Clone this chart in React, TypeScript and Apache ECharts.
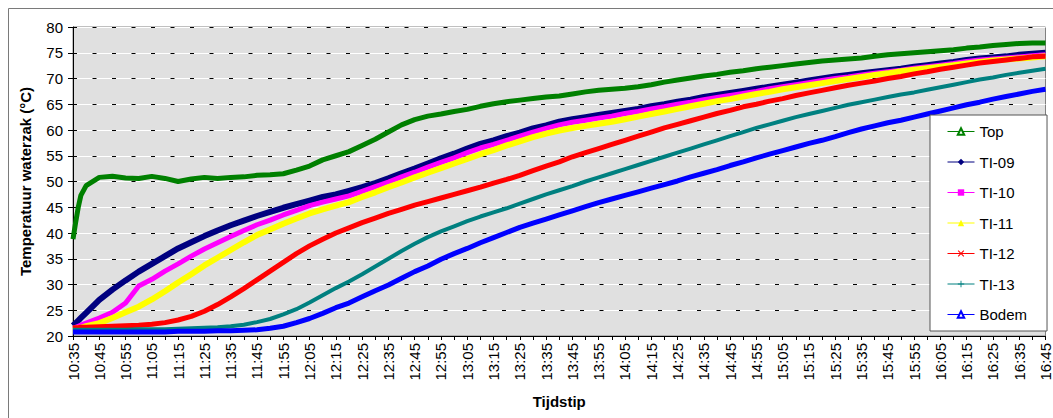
import React, { useEffect, useRef } from "react";
import * as echarts from "echarts";

const times = [
  "10:35", "10:36", "10:37", "10:38", "10:40", "10:45", "10:50", "10:55",
  "11:00", "11:05", "11:10", "11:15", "11:20", "11:25", "11:30", "11:35", "11:40", "11:45", "11:50", "11:55",
  "12:00", "12:05", "12:10", "12:15", "12:20", "12:25", "12:30", "12:35", "12:40", "12:45", "12:50", "12:55",
  "13:00", "13:05", "13:10", "13:15", "13:20", "13:25", "13:30", "13:35", "13:40", "13:45", "13:50", "13:55",
  "14:00", "14:05", "14:10", "14:15", "14:20", "14:25", "14:30", "14:35", "14:40", "14:45", "14:50", "14:55",
  "15:00", "15:05", "15:10", "15:15", "15:20", "15:25", "15:30", "15:35", "15:40", "15:45", "15:50", "15:55",
  "16:00", "16:05", "16:10", "16:15", "16:20", "16:25", "16:30", "16:35", "16:40", "16:45",
];

const top = [
  38.8, 42.0, 45.0, 47.3, 49.2, 50.8, 51.0, 50.7,
  50.6, 51.0, 50.6, 50.0, 50.5, 50.8, 50.6, 50.8, 50.9, 51.2, 51.3, 51.5,
  52.2, 53.0, 54.2, 55.0, 55.8, 57.0, 58.2, 59.6, 61.0, 62.0, 62.7, 63.1,
  63.6, 64.0, 64.6, 65.1, 65.5, 65.8, 66.1, 66.4, 66.6, 67.0, 67.4, 67.7,
  67.9, 68.1, 68.4, 68.8, 69.3, 69.7, 70.1, 70.5, 70.8, 71.2, 71.5, 71.9,
  72.2, 72.5, 72.8, 73.1, 73.4, 73.6, 73.8, 74.0, 74.3, 74.6, 74.8, 75.0,
  75.2, 75.4, 75.6, 75.9, 76.1, 76.4, 76.6, 76.8, 76.9, 76.9,
];
const ti09 = [
  22.0, 22.5, 23.0, 23.5, 24.5, 27.0, 29.0, 30.8,
  32.5, 34.0, 35.5, 37.0, 38.2, 39.4, 40.5, 41.5, 42.4, 43.3, 44.1, 44.9,
  45.6, 46.3, 47.0, 47.5, 48.2, 48.9, 49.7, 50.6, 51.6, 52.5, 53.5, 54.5,
  55.4, 56.4, 57.3, 58.0, 58.8, 59.5, 60.3, 60.9, 61.6, 62.1, 62.5, 62.9,
  63.3, 63.7, 64.1, 64.6, 65.0, 65.5, 65.9, 66.4, 66.8, 67.2, 67.6, 68.0,
  68.4, 68.8, 69.2, 69.6, 70.0, 70.4, 70.7, 71.0, 71.3, 71.6, 71.9, 72.3,
  72.6, 72.9, 73.2, 73.6, 73.9, 74.1, 74.3, 74.6, 74.8, 75.0,
];
const ti10 = [
  21.5, 21.7, 21.9, 22.1, 22.5, 23.5, 24.6, 26.4,
  29.7, 31.0, 32.6, 34.0, 35.5, 36.9, 38.1, 39.3, 40.5, 41.6, 42.5, 43.5,
  44.4, 45.3, 46.0, 46.6, 47.2, 48.1, 49.0, 49.9, 50.9, 51.8, 52.8, 53.7,
  54.6, 55.6, 56.5, 57.2, 58.0, 58.8, 59.6, 60.3, 61.0, 61.5, 61.9, 62.3,
  62.7, 63.2, 63.6, 64.1, 64.5, 65.0, 65.4, 65.9, 66.3, 66.7, 67.1, 67.5,
  68.0, 68.4, 68.8, 69.2, 69.6, 70.0, 70.3, 70.7, 71.0, 71.3, 71.6, 72.0,
  72.3, 72.6, 72.9, 73.3, 73.6, 73.8, 74.0, 74.2, 74.4, 74.6,
];
const ti11 = [
  21.3, 21.4, 21.5, 21.6, 21.9, 22.5, 23.5, 24.6,
  25.7, 27.1, 28.7, 30.4, 32.0, 33.7, 35.2, 36.7, 38.2, 39.6, 40.7, 41.8,
  42.8, 43.8, 44.6, 45.3, 46.0, 47.0, 47.9, 48.9, 49.8, 50.8, 51.7, 52.6,
  53.5, 54.4, 55.3, 56.1, 57.0, 57.8, 58.6, 59.3, 59.9, 60.4, 60.8, 61.2,
  61.6, 62.1, 62.6, 63.1, 63.6, 64.1, 64.6, 65.1, 65.6, 66.0, 66.5, 67.0,
  67.4, 67.9, 68.3, 68.7, 69.1, 69.5, 69.9, 70.3, 70.7, 71.0, 71.4, 71.7,
  72.0, 72.3, 72.6, 72.9, 73.2, 73.5, 73.7, 73.9, 74.1, 74.3,
];
const ti12 = [
  21.6, 21.6, 21.6, 21.7, 21.7, 21.8, 21.9, 22.0,
  22.1, 22.3, 22.6, 23.1, 23.8, 24.8, 26.1, 27.6, 29.2, 30.9, 32.6, 34.3,
  36.0, 37.5, 38.8, 40.0, 41.0, 42.0, 42.9, 43.8, 44.6, 45.4, 46.1, 46.8,
  47.5, 48.2, 48.9, 49.7, 50.4, 51.2, 52.1, 53.0, 53.8, 54.8, 55.6, 56.4,
  57.2, 58.0, 58.8, 59.6, 60.4, 61.1, 61.8, 62.5, 63.2, 63.8, 64.5, 65.0,
  65.6, 66.1, 66.7, 67.2, 67.7, 68.2, 68.7, 69.1, 69.5, 70.0, 70.4, 70.9,
  71.3, 71.8, 72.2, 72.6, 73.0, 73.3, 73.6, 73.9, 74.2, 74.3,
];
const ti13 = [
  21.2, 21.2, 21.2, 21.2, 21.2, 21.2, 21.2, 21.2,
  21.3, 21.3, 21.3, 21.4, 21.5, 21.6, 21.7, 21.9, 22.2, 22.7, 23.3, 24.2,
  25.2, 26.5, 27.9, 29.3, 30.6, 32.0, 33.5, 35.0, 36.5, 37.9, 39.2, 40.3,
  41.3, 42.3, 43.2, 44.0, 44.8, 45.7, 46.6, 47.5, 48.3, 49.1, 50.0, 50.8,
  51.6, 52.4, 53.2, 54.0, 54.8, 55.6, 56.4, 57.2, 58.0, 58.8, 59.6, 60.4,
  61.1, 61.8, 62.5, 63.1, 63.7, 64.3, 64.9, 65.4, 65.9, 66.4, 66.9, 67.3,
  67.8, 68.3, 68.8, 69.3, 69.8, 70.2, 70.7, 71.1, 71.5, 71.9,
];
const bodem = [
  20.8, 20.8, 20.8, 20.8, 20.8, 20.8, 20.8, 20.8,
  20.8, 20.8, 20.8, 20.9, 20.9, 20.9, 21.0, 21.0, 21.1, 21.2, 21.5, 21.9,
  22.6, 23.4, 24.4, 25.5, 26.4, 27.6, 28.8, 29.9, 31.2, 32.5, 33.6, 34.9,
  36.0, 37.0, 38.1, 39.1, 40.1, 41.1, 41.9, 42.7, 43.5, 44.3, 45.1, 45.9,
  46.6, 47.3, 48.0, 48.7, 49.4, 50.1, 50.9, 51.6, 52.3, 53.1, 53.8, 54.6,
  55.3, 56.0, 56.7, 57.4, 58.0, 58.7, 59.5, 60.2, 60.8, 61.4, 61.9, 62.5,
  63.1, 63.7, 64.3, 64.9, 65.4, 66.0, 66.5, 67.0, 67.5, 67.9,
];

const seriesNames = ["Top", "TI-09", "TI-10", "TI-11", "TI-12", "TI-13", "Bodem"];
const seriesValues = [top, ti09, ti10, ti11, ti12, ti13, bodem];
const seriesColors = ["#008000", "#000080", "#FF00FF", "#FFFF00", "#FF0000", "#008080", "#0000FF"];
const X_PATH = "path://M0,1.2L1.2,0L5,3.8L8.8,0L10,1.2L6.2,5L10,8.8L8.8,10L5,6.2L1.2,10L0,8.8L3.8,5Z";
const PLUS_PATH = "path://M4.3,0H5.7V4.3H10V5.7H5.7V10H4.3V5.7H0V4.3H4.3Z";
const seriesSymbols = ["emptyTriangle", "diamond", "rect", "triangle", X_PATH, PLUS_PATH, "emptyTriangle"];
const seriesWidths = [5, 6, 5, 6, 5, 4, 5];

const START = 10 * 60 + 35;
const toMin = (t: string) => {
  const [h, m] = t.split(":").map(Number);
  return h * 60 + m - START;
};
const fmt = (v: number) => {
  const total = START + v;
  const h = Math.floor(total / 60);
  const m = total % 60;
  return h + ":" + (m < 10 ? "0" : "") + m;
};

const FONT = "'Liberation Sans', Arial, sans-serif";

export default function App() {
  const ref = useRef<HTMLDivElement>(null);
  useEffect(() => {
    if (!ref.current) return;
    const chart = echarts.init(ref.current, undefined, { renderer: "svg" });
    const series = seriesNames.map((name, i) => ({
      name,
      type: "line",
      data: times.map((t, j) => [toMin(t), seriesValues[i][j]]),
      showSymbol: false,
      symbol: seriesSymbols[i],
      symbolSize: 7,
      lineStyle: { color: seriesColors[i], width: seriesWidths[i] },
      itemStyle: { color: seriesColors[i], borderColor: seriesColors[i] },
      emphasis: { disabled: true },
    }));
    chart.setOption({
      animation: false,
      graphic: [
        {
          type: "rect",
          shape: { x: 8.5, y: 8.5, width: 1100, height: 500 },
          style: { fill: "none", stroke: "#7a7a7a", lineWidth: 1 },
          silent: true,
          z: -10,
        },
      ],
      grid: {
        left: 73,
        top: 27,
        right: 6,
        bottom: 82,
        show: true,
        backgroundColor: "#E0E0E0",
        borderColor: "#808080",
        borderWidth: 1,
      },
      legend: {
        orient: "vertical",
        left: 930,
        top: 115,
        data: seriesNames,
        itemWidth: 27,
        itemHeight: 8,
        itemGap: 15.5,
        padding: [9, 20, 9, 17],
        backgroundColor: "#ffffff",
        borderColor: "#555555",
        borderWidth: 1,
        lineStyle: { width: 1 },
        textStyle: { fontSize: 15, fontFamily: FONT, color: "#000" },
      },
      xAxis: {
        type: "value",
        min: 0,
        max: 370,
        interval: 5,
        name: "Tijdstip",
        nameLocation: "middle",
        nameGap: 58,
        nameTextStyle: { fontSize: 15, fontWeight: "bold", fontFamily: FONT, color: "#000" },
        axisLine: { lineStyle: { color: "#000", width: 1 } },
        axisTick: { length: 4, lineStyle: { color: "#000" } },
        axisLabel: {
          rotate: 90,
          margin: 7,
          fontSize: 15,
          fontFamily: FONT,
          color: "#000",
          formatter: (v: number) => (v % 10 === 0 ? fmt(v) : ""),
        },
        splitLine: { show: false },
      },
      yAxis: [
        {
          type: "value",
          min: 20,
          max: 80,
          interval: 5,
          z: 1,
          name: "Temperatuur waterzak (°C)",
          nameLocation: "middle",
          nameGap: 40,
          nameTextStyle: { fontSize: 15, fontWeight: "bold", fontFamily: FONT, color: "#000" },
          axisLine: { show: true, lineStyle: { color: "#000", width: 1 } },
          axisTick: { show: true, length: 5, lineStyle: { color: "#000" } },
          axisLabel: { margin: 10, fontSize: 15, fontFamily: FONT, color: "#000" },
          splitLine: { show: true, lineStyle: { color: "#000", width: 1, type: [4, 15.5] } },
        },
        {
          type: "value",
          min: 20,
          max: 80,
          interval: 5,
          z: 0,
          position: "left",
          axisLine: { show: false },
          axisTick: { show: false },
          axisLabel: { show: false },
          splitLine: { show: true, lineStyle: { color: "#ffffff", width: 1, type: "solid" } },
        },
      ],
      series,
    });
    return () => chart.dispose();
  }, []);
  return <div ref={ref} style={{ position: "absolute", left: 0, top: 0, width: 1053, height: 418 }} />;
}
